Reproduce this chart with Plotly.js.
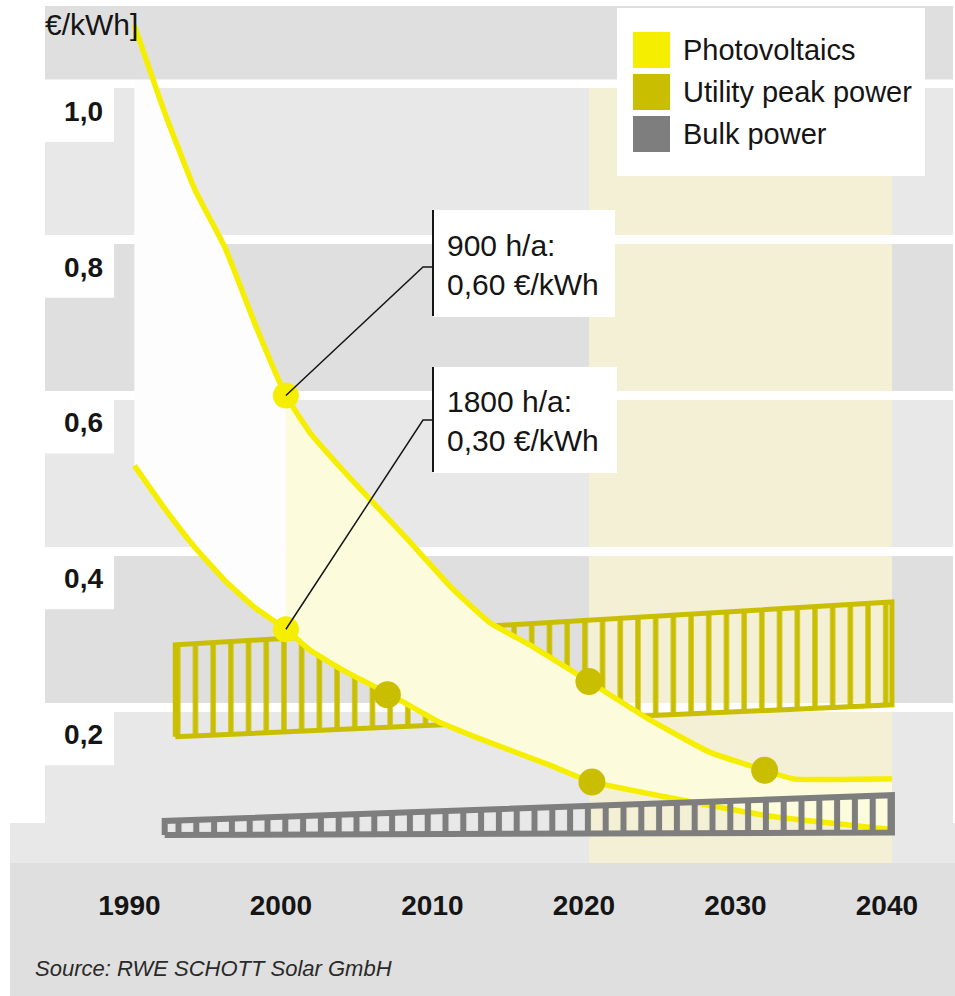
<!DOCTYPE html>
<html>
<head>
<meta charset="utf-8">
<script src="https://cdn.plot.ly/plotly-3.0.1.min.js"></script>
<style>
  html, body { margin: 0; padding: 0; background: #ffffff; }
  #chart { width: 955px; height: 996px; }
</style>
</head>
<body>
<div id="chart"></div>
<script>
// ---- Data ---------------------------------------------------------------
const years = [1990, 2000, 2010, 2020, 2030, 2040];
const yearLabels = ['1990', '2000', '2010', '2020', '2030', '2040'];
const priceTicks = [0.2, 0.4, 0.6, 0.8, 1.0];
const priceLabels = ['0,2', '0,4', '0,6', '0,8', '1,0'];

// Photovoltaics, 900 full-load hours per year (upper curve)
const pvHighYears = [1990, 1992, 1994, 1996, 1998, 2000, 2001.6, 2004, 2008, 2011, 2013.5, 2016, 2020, 2024, 2028, 2031.6, 2033.5, 2040];
const pvHighPrice = [1.075, 0.963, 0.864, 0.789, 0.690, 0.600, 0.552, 0.499, 0.416, 0.352, 0.308, 0.281, 0.233, 0.184, 0.142, 0.119, 0.108, 0.108];

// Photovoltaics, 1800 full-load hours per year (lower curve)
const pvLowYears = [1990, 1992, 1994, 1996, 1998, 2000, 2001.6, 2004, 2006.7, 2010, 2013, 2017.5, 2020, 2025, 2032, 2040];
const pvLowPrice = [0.510, 0.455, 0.405, 0.362, 0.327, 0.300, 0.273, 0.245, 0.218, 0.182, 0.158, 0.125, 0.105, 0.085, 0.060, 0.043];

// Milestones marked on the photovoltaic curves
const milestoneYears = [2006.7, 2020, 2020.2, 2031.6];
const milestonePrice = [0.216, 0.233, 0.104, 0.119];

// Utility peak power price corridor
const peakYears = [1992.7, 2040];
const peakLow = [0.162, 0.203];
const peakHigh = [0.280, 0.335];

// Bulk power price corridor
const bulkYears = [1992, 2040];
const bulkLow = [0.036, 0.039];
const bulkHigh = [0.054, 0.087];

const seriesNames = ['Photovoltaics', 'Utility peak power', 'Bulk power'];
const hoursLabels = ['900 h/a:', '1800 h/a:'];
const referenceYear = 2000;
const outlookYears = [2020, 2040];

// ---- Geometry and styling ----------------------------------------------
const W = 955, H = 996;
const margin = { l: 45, r: 2, t: 6, b: 133, pad: 0 };
const plotW = W - margin.l - margin.r;
const plotH = H - margin.t - margin.b;
const xRange = [1984.1, 2044.03];
const yRange = [0, 1.1];

const PV_YELLOW = '#f6ee00';
const OLIVE = '#c9bf00';
const BULK_GRAY = '#7e7e7e';
const BAND_LIGHT = '#e8e8e8';
const BAND_DARK = '#dfdfdf';
const OUTLOOK_BEIGE = '#f4f0d5';
const PALE_FILL = '#fcfcdd';
const WHITE_FILL = '#fdfdfd';
const INK = '#151515';
const FONT = 'Liberation Sans, Arial, sans-serif';

function paperX(px) { return (px - margin.l) / plotW; }
function paperY(py) { return (H - margin.b - py) / plotH; }
function dataX(px) { return xRange[0] + paperX(px) * (xRange[1] - xRange[0]); }
function dataY(py) { return yRange[0] + paperY(py) * (yRange[1] - yRange[0]); }
function comma(v, d) { return v.toFixed(d).replace('.', ','); }

function corridor(xs, lo, hi) {
  return {
    x: xs.concat(xs.slice().reverse(), [xs[0]]),
    y: lo.concat(hi.slice().reverse(), [lo[0]])
  };
}
function between(hx, hy, lx, ly, from, to) {
  const pick = (xs, ys) => xs.map((v, i) => [v, ys[i]]).filter(p => p[0] >= from && p[0] <= to);
  const pts = pick(hx, hy).concat(pick(lx, ly).reverse());
  return { x: pts.map(p => p[0]), y: pts.map(p => p[1]) };
}

const iHigh = pvHighYears.indexOf(referenceYear);
const iLow = pvLowYears.indexOf(referenceYear);
const refPrices = [pvHighPrice[iHigh], pvLowPrice[iLow]];

// ---- Traces -------------------------------------------------------------
const peak = corridor(peakYears, peakLow, peakHigh);
const bulk = corridor(bulkYears, bulkLow, bulkHigh);
const earlyGap = between(pvHighYears, pvHighPrice, pvLowYears, pvLowPrice, pvHighYears[0], referenceYear);
const laterGap = between(pvHighYears, pvHighPrice, pvLowYears, pvLowPrice, referenceYear, outlookYears[1]);
const topTick = priceTicks[priceTicks.length - 1];
const gridHalf = 4.5 / plotH * (yRange[1] - yRange[0]);

const traces = [
  {
    x: peak.x, y: peak.y, mode: 'lines', fill: 'toself',
    fillcolor: 'rgba(0,0,0,0)',
    fillpattern: { shape: '|', size: 17.7, solidity: 0.3, fgcolor: OLIVE, bgcolor: 'rgba(0,0,0,0)', fillmode: 'replace' },
    line: { color: OLIVE, width: 5 }, hoverinfo: 'skip', showlegend: false
  },
  {
    x: earlyGap.x, y: earlyGap.y, mode: 'none', fill: 'toself',
    fillcolor: WHITE_FILL, hoverinfo: 'skip', showlegend: false
  },
  {
    x: laterGap.x, y: laterGap.y, mode: 'none', fill: 'toself',
    fillcolor: PALE_FILL, hoverinfo: 'skip', showlegend: false
  },
  {
    // top band above the highest gridline
    x: [xRange[0], xRange[1], xRange[1], xRange[0]],
    y: [topTick + gridHalf, topTick + gridHalf, yRange[1], yRange[1]],
    mode: 'none', fill: 'toself', fillcolor: BAND_DARK, hoverinfo: 'skip', showlegend: false
  },
  {
    x: pvHighYears, y: pvHighPrice, mode: 'lines',
    line: { color: PV_YELLOW, width: 5.5, shape: 'spline', smoothing: 0.4 },
    hoverinfo: 'skip', showlegend: false
  },
  {
    x: pvLowYears, y: pvLowPrice, mode: 'lines',
    line: { color: PV_YELLOW, width: 5.5, shape: 'spline', smoothing: 0.4 },
    hoverinfo: 'skip', showlegend: false
  },
  {
    x: bulk.x, y: bulk.y, mode: 'lines', fill: 'toself',
    fillcolor: 'rgba(0,0,0,0)',
    fillpattern: { shape: '|', size: 17.8, solidity: 0.34, fgcolor: BULK_GRAY, bgcolor: 'rgba(0,0,0,0)', fillmode: 'replace' },
    line: { color: BULK_GRAY, width: 6 }, hoverinfo: 'skip', showlegend: false
  },
  {
    x: [referenceYear, referenceYear], y: refPrices, mode: 'markers',
    marker: { color: PV_YELLOW, size: 26 }, hoverinfo: 'skip', showlegend: false
  },
  {
    x: milestoneYears, y: milestonePrice, mode: 'markers',
    marker: { color: OLIVE, size: 27 }, hoverinfo: 'skip', showlegend: false
  }
];

// ---- Shapes -------------------------------------------------------------
const shapes = [];
// area under the plot: light strip then the darker footer
shapes.push({ type: 'rect', xref: 'paper', yref: 'paper', x0: paperX(10), x1: paperX(W), y0: 0, y1: paperY(823),
  fillcolor: BAND_LIGHT, line: { width: 0 }, layer: 'below' });
shapes.push({ type: 'rect', xref: 'paper', yref: 'paper', x0: paperX(10), x1: paperX(W), y0: paperY(H), y1: 0,
  fillcolor: BAND_DARK, line: { width: 0 }, layer: 'below' });
// alternating horizontal bands between the price ticks
const edges = [yRange[0]].concat(priceTicks, [yRange[1]]);
for (let i = 0; i < edges.length - 1; i++) {
  shapes.push({ type: 'rect', xref: 'paper', yref: 'y', x0: 0, x1: 1, y0: edges[i], y1: edges[i + 1],
    fillcolor: i % 2 === 0 ? BAND_LIGHT : BAND_DARK, line: { width: 0 }, layer: 'below' });
}
// white boxes holding the price labels
const unitPerPx = (yRange[1] - yRange[0]) / plotH;
priceTicks.forEach(v => {
  shapes.push({ type: 'rect', xref: 'paper', yref: 'y', x0: 0, x1: paperX(114), y0: v - 58 * unitPerPx, y1: v,
    fillcolor: '#ffffff', line: { width: 0 }, layer: 'below' });
});
// outlook period
shapes.push({ type: 'rect', xref: 'x', yref: 'y', x0: outlookYears[0], x1: outlookYears[1], y0: yRange[0], y1: topTick,
  fillcolor: OUTLOOK_BEIGE, line: { width: 0 }, layer: 'below' });

// legend
shapes.push({ type: 'rect', xref: 'paper', yref: 'paper', x0: paperX(617), x1: paperX(925), y0: paperY(176), y1: paperY(8),
  fillcolor: '#ffffff', line: { width: 0 }, layer: 'above' });
const legendColors = [PV_YELLOW, OLIVE, BULK_GRAY];
const legendRowTop = [32, 74, 116];
legendColors.forEach((c, i) => {
  shapes.push({ type: 'rect', xref: 'paper', yref: 'paper', x0: paperX(633), x1: paperX(670),
    y0: paperY(legendRowTop[i] + 36), y1: paperY(legendRowTop[i]),
    fillcolor: c, line: { width: 0 }, layer: 'above' });
});

// call-out boxes with leader lines
const callouts = [
  { top: 210, bottom: 317, right: 615, lineY: [246, 285], elbow: 267 },
  { top: 367, bottom: 473, right: 617, lineY: [401, 440], elbow: 420 }
];
callouts.forEach((c, i) => {
  shapes.push({ type: 'rect', xref: 'paper', yref: 'paper', x0: paperX(433), x1: paperX(c.right),
    y0: paperY(c.bottom), y1: paperY(c.top), fillcolor: '#ffffff', line: { width: 0 }, layer: 'above' });
  shapes.push({ type: 'line', xref: 'paper', yref: 'paper', x0: paperX(433), x1: paperX(433),
    y0: paperY(c.bottom - 1), y1: paperY(c.top), line: { color: INK, width: 2 }, layer: 'above' });
  shapes.push({ type: 'path', xref: 'x', yref: 'y',
    path: 'M' + referenceYear + ',' + refPrices[i] + ' L' + dataX(423) + ',' + dataY(c.elbow) + ' L' + dataX(433) + ',' + dataY(c.elbow),
    line: { color: INK, width: 1.5 }, layer: 'above' });
});

// ---- Annotations --------------------------------------------------------
const annotations = [];
annotations.push({ xref: 'paper', yref: 'paper', x: paperX(43), y: paperY(24), xanchor: 'left', yanchor: 'middle',
  text: '€/kWh]', showarrow: false, font: { family: FONT, size: 30, color: INK } });
seriesNames.forEach((name, i) => {
  annotations.push({ xref: 'paper', yref: 'paper', x: paperX(681), y: paperY(legendRowTop[i] + 18),
    xanchor: 'left', yanchor: 'middle', text: name, showarrow: false,
    font: { family: FONT, size: 29, color: INK } });
});
callouts.forEach((c, i) => {
  annotations.push({ xref: 'paper', yref: 'paper', x: paperX(445), y: paperY(c.lineY[0]), xanchor: 'left', yanchor: 'middle',
    text: hoursLabels[i], showarrow: false, font: { family: FONT, size: 30, color: INK } });
  annotations.push({ xref: 'paper', yref: 'paper', x: paperX(445), y: paperY(c.lineY[1]), xanchor: 'left', yanchor: 'middle',
    text: comma(refPrices[i], 2) + ' €/kWh', showarrow: false, font: { family: FONT, size: 30, color: INK } });
});
annotations.push({ xref: 'paper', yref: 'paper', x: paperX(33), y: paperY(968), xanchor: 'left', yanchor: 'middle',
  text: 'Source: RWE SCHOTT Solar GmbH', showarrow: false,
  font: { family: FONT, size: 22, color: '#2a2a2a', style: 'italic' } });

// ---- Layout -------------------------------------------------------------
const layout = {
  width: W, height: H, margin: margin,
  paper_bgcolor: '#ffffff', plot_bgcolor: 'rgba(0,0,0,0)',
  showlegend: false,
  font: { family: FONT, color: INK },
  xaxis: {
    range: xRange, tickmode: 'array', tickvals: years, ticktext: yearLabels,
    ticks: '', showgrid: false, zeroline: false, showline: false,
    ticklabelstandoff: 23, ticklabelshift: -5,
    tickfont: { family: FONT, size: 28, weight: 700, color: INK }, fixedrange: true
  },
  yaxis: {
    range: yRange, tickmode: 'array', tickvals: priceTicks, ticktext: priceLabels,
    ticks: '', showgrid: true, gridcolor: '#ffffff', gridwidth: 9,
    zeroline: false, showline: false,
    anchor: 'free', position: paperX(103), ticklabelshift: 27,
    tickfont: { family: FONT, size: 28, weight: 700, color: INK }, fixedrange: true
  },
  shapes: shapes,
  annotations: annotations
};

Plotly.newPlot('chart', traces, layout, { displayModeBar: false, staticPlot: true });
</script>
</body>
</html>
